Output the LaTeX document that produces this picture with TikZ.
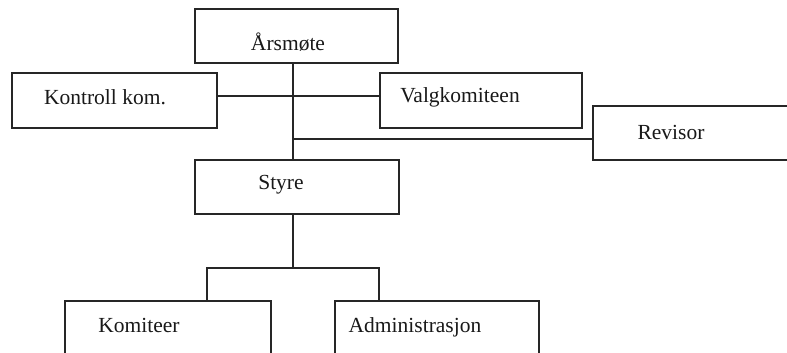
\documentclass[tikz,border=0pt]{standalone}
\usepackage{fontspec}
\setmainfont{Liberation Serif}
\begin{document}
\begin{tikzpicture}[x=1pt,y=-1pt,
  box/.style={draw=black!85,line width=1.6pt,inner sep=0pt,outer sep=0pt,anchor=north west,fill=white},
  lbl/.style={inner sep=0pt,font=\fontsize{21.5}{25}\selectfont,text=black!90},
  conn/.style={draw=black!85,line width=1.6pt}]
\useasboundingbox (0,0) rectangle (787,353);
\clip (0,0) rectangle (787,353);
\fill[white] (0,0) rectangle (787,353);
% boxes
\node[box,minimum width=203pt,minimum height=54pt] (A) at (195,9) {};
\node[box,minimum width=205pt,minimum height=55pt] (K) at (12,73) {};
\node[box,minimum width=202pt,minimum height=55pt] (V) at (380,73) {};
\node[box,minimum width=220pt,minimum height=54pt] (R) at (593,106) {};
\node[box,minimum width=204pt,minimum height=54pt] (S) at (195,160) {};
\node[box,minimum width=206pt,minimum height=70pt] (Ko) at (65,301) {};
\node[box,minimum width=204pt,minimum height=70pt] (Ad) at (335,301) {};
% junction coordinates
\coordinate (j1) at (293,96);
\coordinate (j2) at (293,139);
\coordinate (j3) at (293,268);
\coordinate (k1) at (207,268);
\coordinate (a1) at (379,268);
% connectors
\draw[conn] (A.south -| j1) -- (S.north -| j1);
\draw[conn] (K.east |- j1) -- (V.west |- j1);
\draw[conn] (j2) -- (R.west |- j2);
\draw[conn] (S.south -| j3) -- (j3);
\draw[conn] (Ko.north -| k1) -- (k1) -- (a1) -- (Ad.north -| a1);
% labels
\node[lbl] (At) at (288,42) {Årsmøte};
\node[lbl] (Kt) at (105,97) {Kontroll kom.};
\node[lbl] (Vt) at (460,97) {Valgkomiteen};
\node[lbl] (Rt) at (671,132) {Revisor};
\node[lbl] (St) at (281,185) {Styre};
\node[lbl] (Kot) at (139,325) {Komiteer};
\node[lbl] (Adt) at (415,327) {Administrasjon};
\end{tikzpicture}
\end{document}
